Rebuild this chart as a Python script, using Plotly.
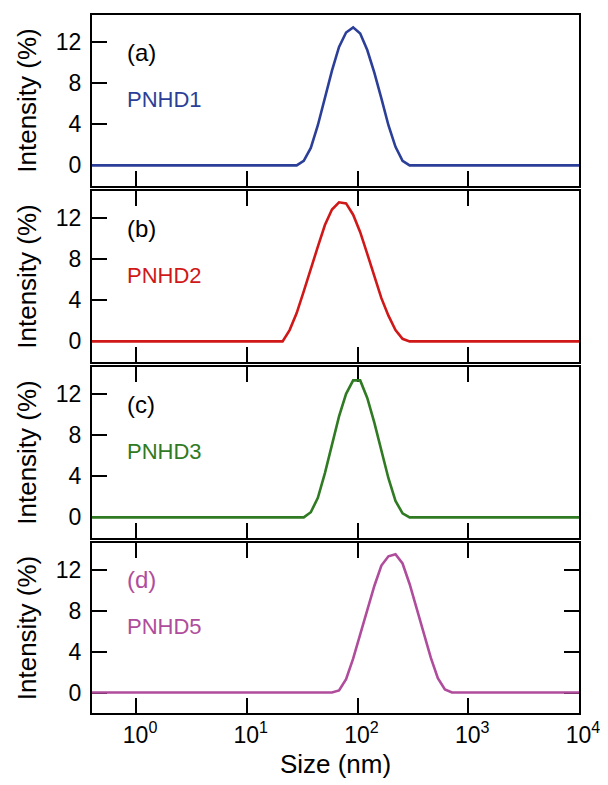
import plotly.graph_objects as go
from plotly.subplots import make_subplots

# ---- data (Malvern size bins, nm) ----
pnhd1_size = [0.4, 28.21, 32.67, 37.84, 43.82, 50.75, 58.77, 68.06, 78.82, 91.28, 105.7,
              122.4, 141.8, 164.2, 190.1, 220.2, 255.0, 295.3, 10000]
pnhd1_int = [0, 0, 0.45, 1.7, 3.9, 6.5, 9.2, 11.5, 12.9, 13.4, 12.8,
             11.2, 9.0, 6.5, 3.9, 1.8, 0.45, 0, 0]

pnhd2_size = [0.4, 21.04, 24.36, 28.21, 32.67, 37.84, 43.82, 50.75, 58.77, 68.06, 78.82,
              91.28, 105.7, 122.4, 141.8, 164.2, 190.1, 220.2, 255.0, 295.3, 10000]
pnhd2_int = [0, 0, 1.1, 2.75, 4.85, 7.1, 9.2, 11.3, 12.8, 13.5, 13.4,
             12.3, 10.6, 8.5, 6.3, 4.2, 2.5, 1.1, 0.25, 0, 0]

pnhd3_size = [0.4, 32.67, 37.84, 43.82, 50.75, 58.77, 68.06, 78.82, 91.28, 105.7, 122.4,
              141.8, 164.2, 190.1, 220.2, 255.0, 295.3, 10000]
pnhd3_int = [0, 0, 0.5, 1.9, 4.3, 7.0, 9.8, 12.0, 13.3, 13.3, 11.6,
             9.2, 6.4, 3.8, 1.6, 0.4, 0, 0]

pnhd5_size = [0.4, 58.77, 68.06, 78.82, 91.28, 105.7, 122.4, 141.8, 164.2, 190.1, 220.2,
              255.0, 295.3, 342.0, 396.1, 458.7, 531.2, 615.1, 712.4, 10000]
pnhd5_int = [0, 0, 0.2, 1.3, 3.3, 5.7, 8.0, 10.4, 12.4, 13.3, 13.5,
             12.6, 10.6, 8.2, 5.9, 3.4, 1.4, 0.3, 0, 0]

series_names = ["PNHD1", "PNHD2", "PNHD3", "PNHD5"]
panel_labels = ["(a)", "(b)", "(c)", "(d)"]
x_tickvals = [1, 10, 100, 1000, 10000]
x_ticktext = ["10<sup>0</sup>", "10<sup>1</sup>", "10<sup>2</sup>", "10<sup>3</sup>", "10<sup>4</sup>"]
y_tickvals = [0, 4, 8, 12]

sizes = [pnhd1_size, pnhd2_size, pnhd3_size, pnhd5_size]
ints = [pnhd1_int, pnhd2_int, pnhd3_int, pnhd5_int]
colors = ["#2b3f98", "#d01818", "#2f7a22", "#b04c9c"]
label_colors = ["black", "black", "black", "#b04c9c"]

FONT = "Liberation Sans, Arial, sans-serif"

# the page body adds an 8px offset; the figure is sized so that its plot
# area lands where the reference's does in the 608x785 window
W, H = 600, 777
M_L, M_R, M_T, M_B = 84, 29, 7, 72
plot_h = H - M_T - M_B
# panel extents (top, bottom) in figure pixels
panel_px = [(7, 178), (183, 354), (359, 530), (535, 705)]


def to_frac(px):
    return (H - M_B - px) / plot_h


fig = make_subplots(rows=4, cols=1, shared_xaxes=True, vertical_spacing=0.006)

for i in range(4):
    r = i + 1
    top, bot = panel_px[i]
    fig.add_trace(go.Scatter(x=sizes[i], y=ints[i], mode="lines",
                             line=dict(color=colors[i], width=2.6),
                             showlegend=False), row=r, col=1)
    fig.update_yaxes(domain=[to_frac(bot), to_frac(top)],
                     range=[-2, 14.6], tickvals=y_tickvals, ticks="inside",
                     ticklen=15, tickwidth=1.8, tickcolor="black",
                     showline=True, linecolor="black", linewidth=2,
                     mirror=("ticks" if i == 3 else True),
                     showgrid=False, zeroline=False, layer="below traces",
                     automargin=False,
                     tickfont=dict(family=FONT, size=23, color="black"),
                     ticklabelstandoff=4,
                     title=dict(text="Intensity (%)", standoff=12,
                                font=dict(family=FONT, size=26, color="black")),
                     row=r, col=1)
    fig.update_xaxes(type="log", range=[-0.398, 4], tickvals=x_tickvals,
                     ticktext=x_ticktext, ticks="inside", ticklen=15,
                     tickwidth=1.8, tickcolor="black",
                     showline=True, linecolor="black", linewidth=2,
                     mirror=(True if i == 0 else "ticks"),
                     showgrid=False, zeroline=False, layer="below traces",
                     automargin=False,
                     showticklabels=(i == 3), ticklabelshift=4,
                     tickfont=dict(family=FONT, size=23, color="black"),
                     row=r, col=1)
    yref = "y" if r == 1 else f"y{r}"
    xref = "x domain" if r == 1 else f"x{r} domain"
    fig.add_annotation(x=0.068, y=11.0, xref=xref, yref=yref, xanchor="left",
                       yanchor="middle", text=panel_labels[i], showarrow=False,
                       font=dict(family=FONT, size=24, color=label_colors[i]))
    fig.add_annotation(x=0.068, y=6.4, xref=xref, yref=yref, xanchor="left",
                       yanchor="middle", text=series_names[i], showarrow=False,
                       font=dict(family=FONT, size=22, color=colors[i]))

fig.update_xaxes(title=dict(text="Size (nm)", standoff=8,
                            font=dict(family=FONT, size=26, color="black")),
                 row=4, col=1)

fig.update_layout(width=W, height=H,
                  margin=dict(l=M_L, r=M_R, t=M_T, b=M_B, autoexpand=False),
                  plot_bgcolor="white", paper_bgcolor="white",
                  font=dict(family=FONT))

fig.write_html("out.html")
